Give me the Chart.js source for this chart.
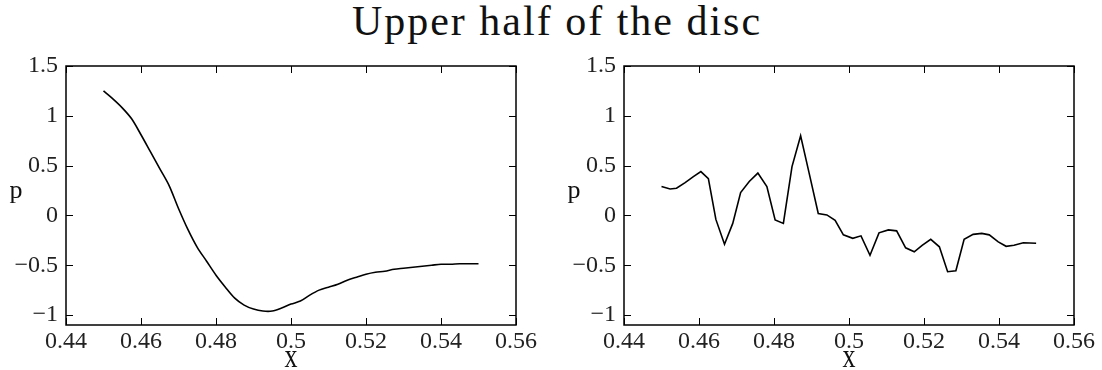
<!DOCTYPE html>
<html>
<head>
<meta charset="utf-8">
<script src="https://cdn.jsdelivr.net/npm/chart.js@4.4.1/dist/chart.umd.min.js"></script>
<style>
  html, body { margin: 0; padding: 0; background: #fff; }
  #wrap { position: relative; width: 1102px; height: 370px; overflow: hidden; }
  #title { position: absolute; left: 0; top: 0px; width: 1114px; text-align: center;
           font-family: "Liberation Serif", serif; font-size: 42px; line-height: 42px;
           letter-spacing: 2px; color: #111; }
  canvas { position: absolute; top: 0; }
</style>
</head>
<body>
<div id="wrap">
  <div id="title">Upper half of the disc</div>
  <canvas id="c1" width="551" height="370" style="left:0px"></canvas>
  <canvas id="c2" width="551" height="370" style="left:551px"></canvas>
</div>
<script>
// Smooth pressure profile (left panel)
const leftX = [0.45, 0.4525, 0.455, 0.4575, 0.46, 0.4625, 0.465, 0.4675, 0.47, 0.4725,
               0.475, 0.4775, 0.48, 0.4825, 0.485, 0.4875, 0.49, 0.4925, 0.495, 0.4975,
               0.5, 0.5025, 0.505, 0.5075, 0.51, 0.5125, 0.515, 0.5175, 0.52, 0.5225,
               0.525, 0.5275, 0.53, 0.5325, 0.535, 0.5375, 0.54, 0.5425, 0.545, 0.5475, 0.55];
const leftP = [1.25, 1.17, 1.08, 0.97, 0.81, 0.64, 0.47, 0.30, 0.07, -0.14,
               -0.32, -0.46, -0.60, -0.72, -0.83, -0.90, -0.94, -0.96, -0.96, -0.93,
               -0.89, -0.86, -0.80, -0.75, -0.72, -0.69, -0.65, -0.62, -0.59, -0.57,
               -0.56, -0.54, -0.53, -0.52, -0.51, -0.50, -0.49, -0.49, -0.485, -0.485, -0.485];

// Oscillating pressure profile (right panel)
const rightX = [0.4500, 0.4523, 0.4540, 0.4563, 0.4585, 0.4605, 0.4625, 0.4645, 0.4668, 0.4690,
                0.4711, 0.4734, 0.4757, 0.4781, 0.4803, 0.4825, 0.4848, 0.4871, 0.4894, 0.4918,
                0.4941, 0.4963, 0.4985, 0.5010, 0.5032, 0.5056, 0.5080, 0.5105, 0.5127, 0.5151,
                0.5174, 0.5195, 0.5218, 0.5241, 0.5263, 0.5285, 0.5307, 0.5331, 0.5354, 0.5374,
                0.5398, 0.5419, 0.5440, 0.5465, 0.5499];
const rightP = [0.29, 0.265, 0.273, 0.33, 0.39, 0.44, 0.37, -0.04, -0.29, -0.08,
                0.23, 0.34, 0.425, 0.29, -0.045, -0.08, 0.49, 0.80, 0.42, 0.02,
                0.005, -0.05, -0.195, -0.23, -0.205, -0.40, -0.175, -0.145, -0.155, -0.325,
                -0.365, -0.30, -0.24, -0.315, -0.565, -0.555, -0.24, -0.19, -0.18, -0.195,
                -0.265, -0.31, -0.30, -0.275, -0.28];

const xTicks = [0.44, 0.46, 0.48, 0.50, 0.52, 0.54, 0.56];
const pTicks = [-1, -0.5, 0, 0.5, 1, 1.5];
const xLabel = 'x';
const pLabel = 'p';

const FONT = '"Liberation Serif", serif';

function fmt(v) {
  return String(Number(v.toFixed(2))).replace('-', '\u2212');
}

// Box around the plot area, inward tick marks on all four sides, axis names
const framePlugin = {
  id: 'frame',
  afterDraw(chart) {
    const { ctx, chartArea: a, scales } = chart;
    const sx = scales.x, sy = scales.y;
    const L = 7;
    ctx.save();
    ctx.strokeStyle = '#000';
    ctx.lineWidth = 1;
    ctx.beginPath();
    sx.ticks.forEach(t => {
      const px = Math.round(sx.getPixelForValue(t.value)) + 0.5;
      ctx.moveTo(px, a.bottom); ctx.lineTo(px, a.bottom - L);
      ctx.moveTo(px, a.top); ctx.lineTo(px, a.top + L);
    });
    sy.ticks.forEach(t => {
      const py = Math.round(sy.getPixelForValue(t.value)) + 0.5;
      ctx.moveTo(a.left, py); ctx.lineTo(a.left + L, py);
      ctx.moveTo(a.right, py); ctx.lineTo(a.right - L, py);
    });
    ctx.stroke();
    ctx.lineWidth = 1.5;
    ctx.strokeRect(a.left, a.top, a.right - a.left, a.bottom - a.top);

    ctx.fillStyle = '#111';
    ctx.font = '26px ' + FONT;
    ctx.textAlign = 'center';
    ctx.textBaseline = 'alphabetic';
    ctx.fillText(pLabel, a.left - 50, (a.top + a.bottom) / 2 + 2);
    ctx.save();
    ctx.translate((a.left + a.right) / 2, a.bottom + 42);
    ctx.scale(1, 1.3);
    ctx.fillText(xLabel, 0, 0);
    ctx.restore();
    ctx.restore();
  }
};

function makeChart(id, xs, ps, yAxisWidth, rightPad, tension) {
  const pts = xs.map((x, i) => ({ x: x, y: ps[i] }));
  return new Chart(document.getElementById(id), {
    type: 'line',
    data: {
      datasets: [{
        data: pts,
        borderColor: '#000',
        borderWidth: 1.6,
        pointRadius: 0,
        tension: tension,
        fill: false
      }]
    },
    options: {
      responsive: false,
      animation: false,
      devicePixelRatio: 1,
      layout: { padding: { left: 0, right: rightPad, top: 66, bottom: 0 } },
      plugins: { legend: { display: false }, tooltip: { enabled: false }, title: { display: false } },
      scales: {
        x: {
          type: 'linear',
          min: 0.44, max: 0.56,
          afterBuildTicks: s => { s.ticks = xTicks.map(v => ({ value: v })); },
          afterFit: s => { s.height = 45; },
          grid: { display: false, drawTicks: false },
          border: { display: false },
          ticks: { callback: v => fmt(v), padding: 2, color: '#222', font: { family: FONT, size: 24 }, maxRotation: 0, autoSkip: false }
        },
        y: {
          type: 'linear',
          min: -1.1, max: 1.5,
          afterBuildTicks: s => { s.ticks = pTicks.map(v => ({ value: v })); },
          afterFit: s => { s.width = yAxisWidth; },
          grid: { display: false, drawTicks: false },
          border: { display: false },
          ticks: { callback: v => fmt(v), padding: 8, color: '#222', font: { family: FONT, size: 24 }, autoSkip: false }
        }
      }
    },
    plugins: [framePlugin]
  });
}

makeChart('c1', leftX, leftP, 66, 35, 0.3);
makeChart('c2', rightX, rightP, 73, 28, 0);
</script>
</body>
</html>
